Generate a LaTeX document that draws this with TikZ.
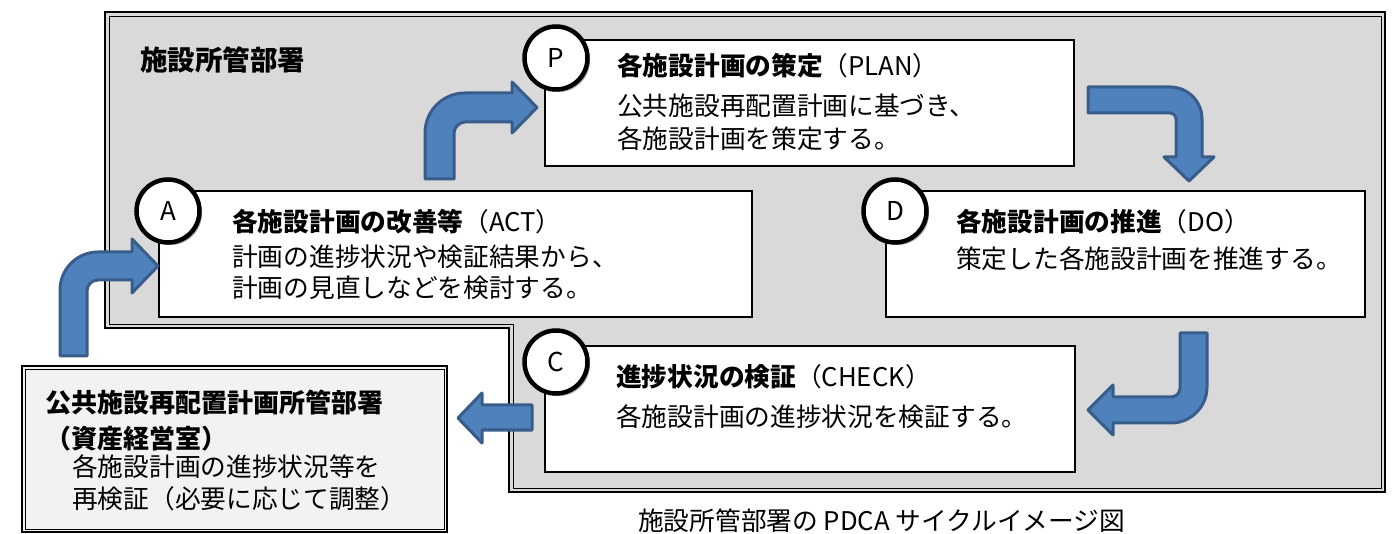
\documentclass[tikz,border=0pt]{standalone}
\usepackage{fontspec}
\setmainfont{Noto Sans CJK JP}
\usetikzlibrary{shadows,calc}
\definecolor{panel}{HTML}{D9D9D9}
\definecolor{subfill}{HTML}{F2F2F2}
\definecolor{arrowfill}{HTML}{4F81BD}
\definecolor{arrowline}{HTML}{385D8A}
\begin{document}
\begin{tikzpicture}[x=1pt,y=-1pt,
  txt/.style={anchor=west,inner sep=0pt,font=\fontsize{25.7}{30}\selectfont},
  card/.style={draw=black,line width=1.5pt,fill=white,inner sep=0pt},
  badge/.style={circle,draw=black,line width=4.5pt,fill=white,minimum size=63pt,inner sep=0pt,
    font=\fontsize{26}{30}\selectfont,
    drop shadow={shadow xshift=2.5pt,shadow yshift=-2.5pt,opacity=0.35,fill=black}},
  bent/.style={fill=arrowfill,draw=arrowline,line width=3pt,line join=round}]
\useasboundingbox (0,0) rectangle (1395,534);
% department region
\fill[panel] (105,12) -- (1385,12) -- (1385,492) -- (509,492) -- (509,328) -- (105,328) -- cycle;
\draw[line width=2pt] (105,12) -- (1385,12) -- (1385,492) -- (509,492) -- (509,328) -- (105,328) -- cycle;
\draw[line width=0.8pt] (109,16) -- (1381,16) -- (1381,488) -- (513,488) -- (513,324) -- (109,324) -- cycle;
\node[anchor=west,inner sep=0pt,font=\fontsize{27.5}{30}\selectfont\bfseries] (title) at (140,60) {施設所管部署};
% cards
\node[card,minimum width=529pt,minimum height=126pt] (pbox) at (809.5,103) {};
\node[card,minimum width=593pt,minimum height=126pt] (abox) at (455.5,254) {};
\node[card,minimum width=479pt,minimum height=126pt] (dbox) at (1125.5,254) {};
\node[card,minimum width=530pt,minimum height=126pt] (cbox) at (810,409) {};
% texts
\node[txt] (p1) at (617,66) {\textbf{各施設計画の策定}（PLAN）};
\node[txt] (p2) at (617,106) {公共施設再配置計画に基づき、};
\node[txt] (p3) at (617,139) {各施設計画を策定する。};
\node[txt] (a1) at (232,222) {\textbf{各施設計画の改善等}（ACT）};
\node[txt] (a2) at (232,257) {計画の進捗状況や検証結果から、};
\node[txt] (a3) at (232,288) {計画の見直しなどを検討する。};
\node[txt] (d1) at (956,222) {\textbf{各施設計画の推進}（DO）};
\node[txt] (d2) at (956,259) {策定した各施設計画を推進する。};
\node[txt] (c1) at (616,377) {\textbf{進捗状況の検証}（CHECK）};
\node[txt] (c2) at (616,417) {各施設計画の進捗状況を検証する。};
% circles
\node[badge] (pc) at (556,58) {P};
\node[badge] (ac) at (168,211) {A};
\node[badge] (dc) at (895,211) {D};
\node[badge] (cc) at (556,362) {C};
% asset management box
\node[draw=black,line width=2pt,fill=subfill,minimum width=425pt,minimum height=166pt,inner sep=0pt] (hq) at (234.5,449) {};
\draw[line width=0.8pt] ($(hq.north west)+(4,4)$) rectangle ($(hq.south east)+(-4,-4)$);
\node[txt,font=\fontsize{26}{30}\selectfont\bfseries] (h1) at (45,403) {公共施設再配置計画所管部署};
\node[txt,font=\fontsize{26}{30}\selectfont\bfseries] (h2) at (45,439) {（資産経営室）};
\node[txt] (h3) at (72,467) {各施設計画の進捗状況等を};
\node[txt] (h4) at (72,499) {再検証（必要に応じて調整）};
% caption
\node[txt] (cap) at (638,521) {施設所管部署の PDCA サイクルイメージ図};
% bent arrows
\path[bent] (425,179) -- (425,133) .. controls (425,110.9) and (442.9,93) .. (465,93) -- (512,93) -- (512,82) -- (537,107.5) -- (512,133) -- (512,122) -- (465,122) .. controls (458.9,122) and (454,128.1) .. (454,133) -- (454,179) -- cycle;
\path[bent] (60,356) -- (60,290) .. controls (60,269) and (77,252) .. (98,252) -- (132,252) -- (132,239) -- (158,266) -- (132,293) -- (132,280) -- (98,280) .. controls (91.9,280) and (87,284.9) .. (87,291) -- (87,356) -- cycle;
\path[bent] (1088,87) -- (1170,87) .. controls (1187.7,87) and (1202,101.3) .. (1202,119) -- (1202,157) -- (1214,157) -- (1189,181) -- (1164,157) -- (1176,157) -- (1176,119) .. controls (1176,115.7) and (1173.3,113) .. (1170,113) -- (1088,113) -- cycle;
\path[bent] (1180,333) -- (1207,333) -- (1207,387) .. controls (1207,406.9) and (1190.9,423) .. (1171,423) -- (1113,423) -- (1113,435) -- (1088,410) -- (1113,385) -- (1113,397) -- (1171,397) .. controls (1176,397) and (1180,393) .. (1180,388) -- cycle;
\path[bent] (532,405) -- (482,405) -- (482,393) -- (458,418) -- (482,443) -- (482,430) -- (532,430) -- cycle;
\end{tikzpicture}
\end{document}
